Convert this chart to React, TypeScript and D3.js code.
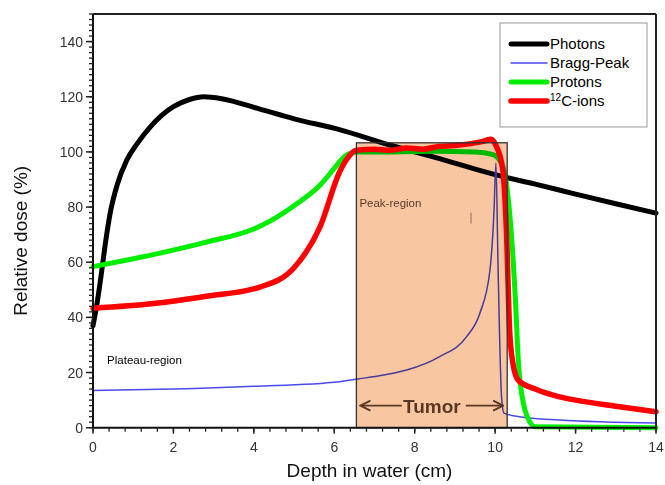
import * as d3 from 'd3';

// depth (cm) / relative dose (%)
const photons: [number, number][] = [
  [0, 37], [0.1, 45], [0.2, 55], [0.3, 66], [0.43, 78], [0.6, 88], [0.84, 97],
  [1.1, 103], [1.42, 109], [2.0, 116.4], [2.4, 119], [2.75, 120], [3.2, 119.3],
  [4.15, 115.5], [5, 112], [6.15, 108], [7.38, 102.5], [8.5, 98], [10.2, 91],
  [11, 88.3], [12, 84.7], [13, 81.2], [14, 77.8],
];
const braggPeak: [number, number][] = [
  [0, 13.5], [2, 14], [4, 15], [6.14, 16.7], [6.55, 17.6], [7.2, 19], [7.8, 20.9],
  [8.62, 25.8], [9.29, 33], [9.62, 41.5], [9.87, 57], [9.97, 78], [10.02, 96],
  [10.07, 60], [10.16, 11], [10.22, 5.3], [10.6, 4], [11.6, 2.8], [14, 1.7],
];
const protons: [number, number][] = [
  [0, 58.4], [1.67, 63.3], [2.74, 67], [4.15, 73], [5, 80.5], [5.65, 88],
  [6.0, 94], [6.27, 98.5], [6.55, 100], [7.5, 100], [8.5, 100.2], [9.5, 100],
  [9.95, 99], [10.19, 94.7], [10.36, 78], [10.5, 47.5], [10.58, 23.5],
  [10.7, 9], [10.8, 4], [11, 0.3], [14, 0],
];
const carbonIons: [number, number][] = [
  [0, 43.3], [1.5, 45], [2.74, 47.5], [4.15, 51], [5, 58], [5.65, 73],
  [6.14, 93], [6.4, 99], [6.55, 100.6], [7, 101], [7.4, 100.6], [7.8, 101.4],
  [8.2, 101], [8.6, 102], [9, 102.3], [9.4, 103], [9.7, 103.8], [9.9, 104.6],
  [10.03, 102], [10.19, 93.5], [10.28, 71.7], [10.36, 35.4], [10.44, 23.5],
  [10.57, 17.3], [11, 14], [11.6, 11.2], [12, 10], [13, 7.8], [14, 5.8],
];
const tumor = { from: 6.55, to: 10.3, top: 103.3 };
const xTickLabels = [0, 2, 4, 6, 8, 10, 12, 14];
const yTickLabels = [0, 20, 40, 60, 80, 100, 120, 140];

const series = [
  { name: 'Photons', data: photons, color: '#000000', width: 5 },
  { name: 'Bragg-Peak', data: braggPeak, color: '#4a4af0', width: 1.5 },
  { name: 'Protons', data: protons, color: '#00ee00', width: 5 },
  { name: 'C-ions', data: carbonIons, color: '#ff0000', width: 5.5 },
];

const W = 665;
const H = 485;
const left = 93;
const right = 656;
const top = 14;
const bottom = 427.7;
const font = '"Liberation Sans", Arial, sans-serif';

export default function App() {
  const x = d3.scaleLinear().domain([0, 14]).range([left, right]);
  const y = d3.scaleLinear().domain([0, 150]).range([bottom, top]);
  const line = d3
    .line<[number, number]>()
    .x((d) => x(d[0]))
    .y((d) => y(d[1]))
    .curve(d3.curveMonotoneX);

  const xMinor = d3.range(0, 14.001, 0.4);
  const yMinor = d3.range(0, 150.001, 2);
  const tumorMid = (x(tumor.from) + x(tumor.to)) / 2;
  const arrowY = y(8);

  return (
    <svg
      width={W}
      height={H}
      style={{ position: 'absolute', left: 0, top: 0, background: '#fff' }}
      fontFamily={font}
    >
      <defs>
        <marker id="arr" viewBox="0 0 10 10" refX="9" refY="5" markerWidth="7" markerHeight="7" orient="auto-start-reverse">
          <path d="M1,1 L9,5 L1,9" fill="none" stroke="#5a3822" strokeWidth="1.6" />
        </marker>
      </defs>

      {series.map((s) => (
        <path
          key={s.name}
          d={line(s.data) ?? undefined}
          fill="none"
          stroke={s.color}
          strokeWidth={s.width}
          strokeLinejoin="round"
          strokeLinecap="round"
        />
      ))}

      {/* tumor box, multiplied over the curves */}
      <rect
        x={x(tumor.from)}
        y={y(tumor.top)}
        width={x(tumor.to) - x(tumor.from)}
        height={bottom - y(tumor.top)}
        fill="#f9c6a2"
        style={{ mixBlendMode: 'multiply' }}
      />
      <rect
        x={x(tumor.from)}
        y={y(tumor.top)}
        width={x(tumor.to) - x(tumor.from)}
        height={bottom - y(tumor.top)}
        fill="none"
        stroke="#333"
        strokeWidth={1.3}
      />
      <text x={x(tumor.from) + 3} y={y(80)} fontSize={11.5} fill="#5a3a2a">Peak-region</text>
      <line x1={x(9.4)} x2={x(9.4)} y1={y(78)} y2={y(74)} stroke="#8a6a5a" strokeWidth={1} />
      <text x={tumorMid} y={arrowY + 7} fontSize={19} fontWeight="bold" fill="#5a3822" textAnchor="middle">Tumor</text>
      <line x1={tumorMid - 30} x2={x(tumor.from) + 4} y1={arrowY} y2={arrowY} stroke="#5a3822" strokeWidth={1.8} markerEnd="url(#arr)" />
      <line x1={tumorMid + 34} x2={x(tumor.to) - 4} y1={arrowY} y2={arrowY} stroke="#5a3822" strokeWidth={1.8} markerEnd="url(#arr)" />

      <text x={x(0.35)} y={y(23)} fontSize={11.5} fill="#000">Plateau-region</text>

      {/* frame */}
      <line x1={left} x2={right} y1={top} y2={top} stroke="#222" strokeWidth={2} />
      <line x1={right} x2={right} y1={top} y2={bottom} stroke="#222" strokeWidth={2} />
      <line x1={left} x2={left} y1={top} y2={bottom} stroke="#111" strokeWidth={2} />
      <line x1={left} x2={right} y1={bottom} y2={bottom} stroke="#111" strokeWidth={2} />

      {/* x ticks */}
      {xMinor.map((v) => (
        <line key={'xm' + v} x1={x(v)} x2={x(v)} y1={bottom} y2={bottom + 4} stroke="#222" strokeWidth={1.3} />
      ))}
      {xTickLabels.map((v) => (
        <g key={'x' + v}>
          <line x1={x(v)} x2={x(v)} y1={bottom} y2={bottom + 6} stroke="#222" strokeWidth={1.5} />
          <text x={x(v)} y={bottom + 24} fontSize={14} fill="#333" textAnchor="middle">{v}</text>
        </g>
      ))}

      {/* y ticks */}
      {yMinor.map((v) => (
        <line key={'ym' + v} x1={left - 4} x2={left} y1={y(v)} y2={y(v)} stroke="#222" strokeWidth={1.3} />
      ))}
      {yTickLabels.map((v) => (
        <g key={'y' + v}>
          <line x1={left - 7} x2={left} y1={y(v)} y2={y(v)} stroke="#222" strokeWidth={1.5} />
          <text x={left - 10} y={y(v) + 5} fontSize={14} fill="#333" textAnchor="end">{v}</text>
        </g>
      ))}

      <text x={(left + right) / 2 - 5} y={477} fontSize={19} fill="#111" textAnchor="middle">Depth in water (cm)</text>
      <text transform={`translate(27, ${(top + bottom) / 2 + 20}) rotate(-90)`} fontSize={19} fill="#111" textAnchor="middle">Relative dose (%)</text>

      {/* legend */}
      <rect x={500} y={23} width={147} height={104} fill="#fff" stroke="#999" strokeWidth={1} />
      {series.map((s, i) => {
        const ly = 44 + i * 19;
        return (
          <g key={'lg' + s.name}>
            <line x1={511} x2={547} y1={ly} y2={ly} stroke={s.color} strokeWidth={s.width} strokeLinecap="round" />
            <text x={550} y={ly + 5} fontSize={15} fill="#000">
              {i === 3 ? (
                <>
                  <tspan fontSize={10} dy={-5}>12</tspan>
                  <tspan dy={5}>{s.name}</tspan>
                </>
              ) : (
                s.name
              )}
            </text>
          </g>
        );
      })}
    </svg>
  );
}
